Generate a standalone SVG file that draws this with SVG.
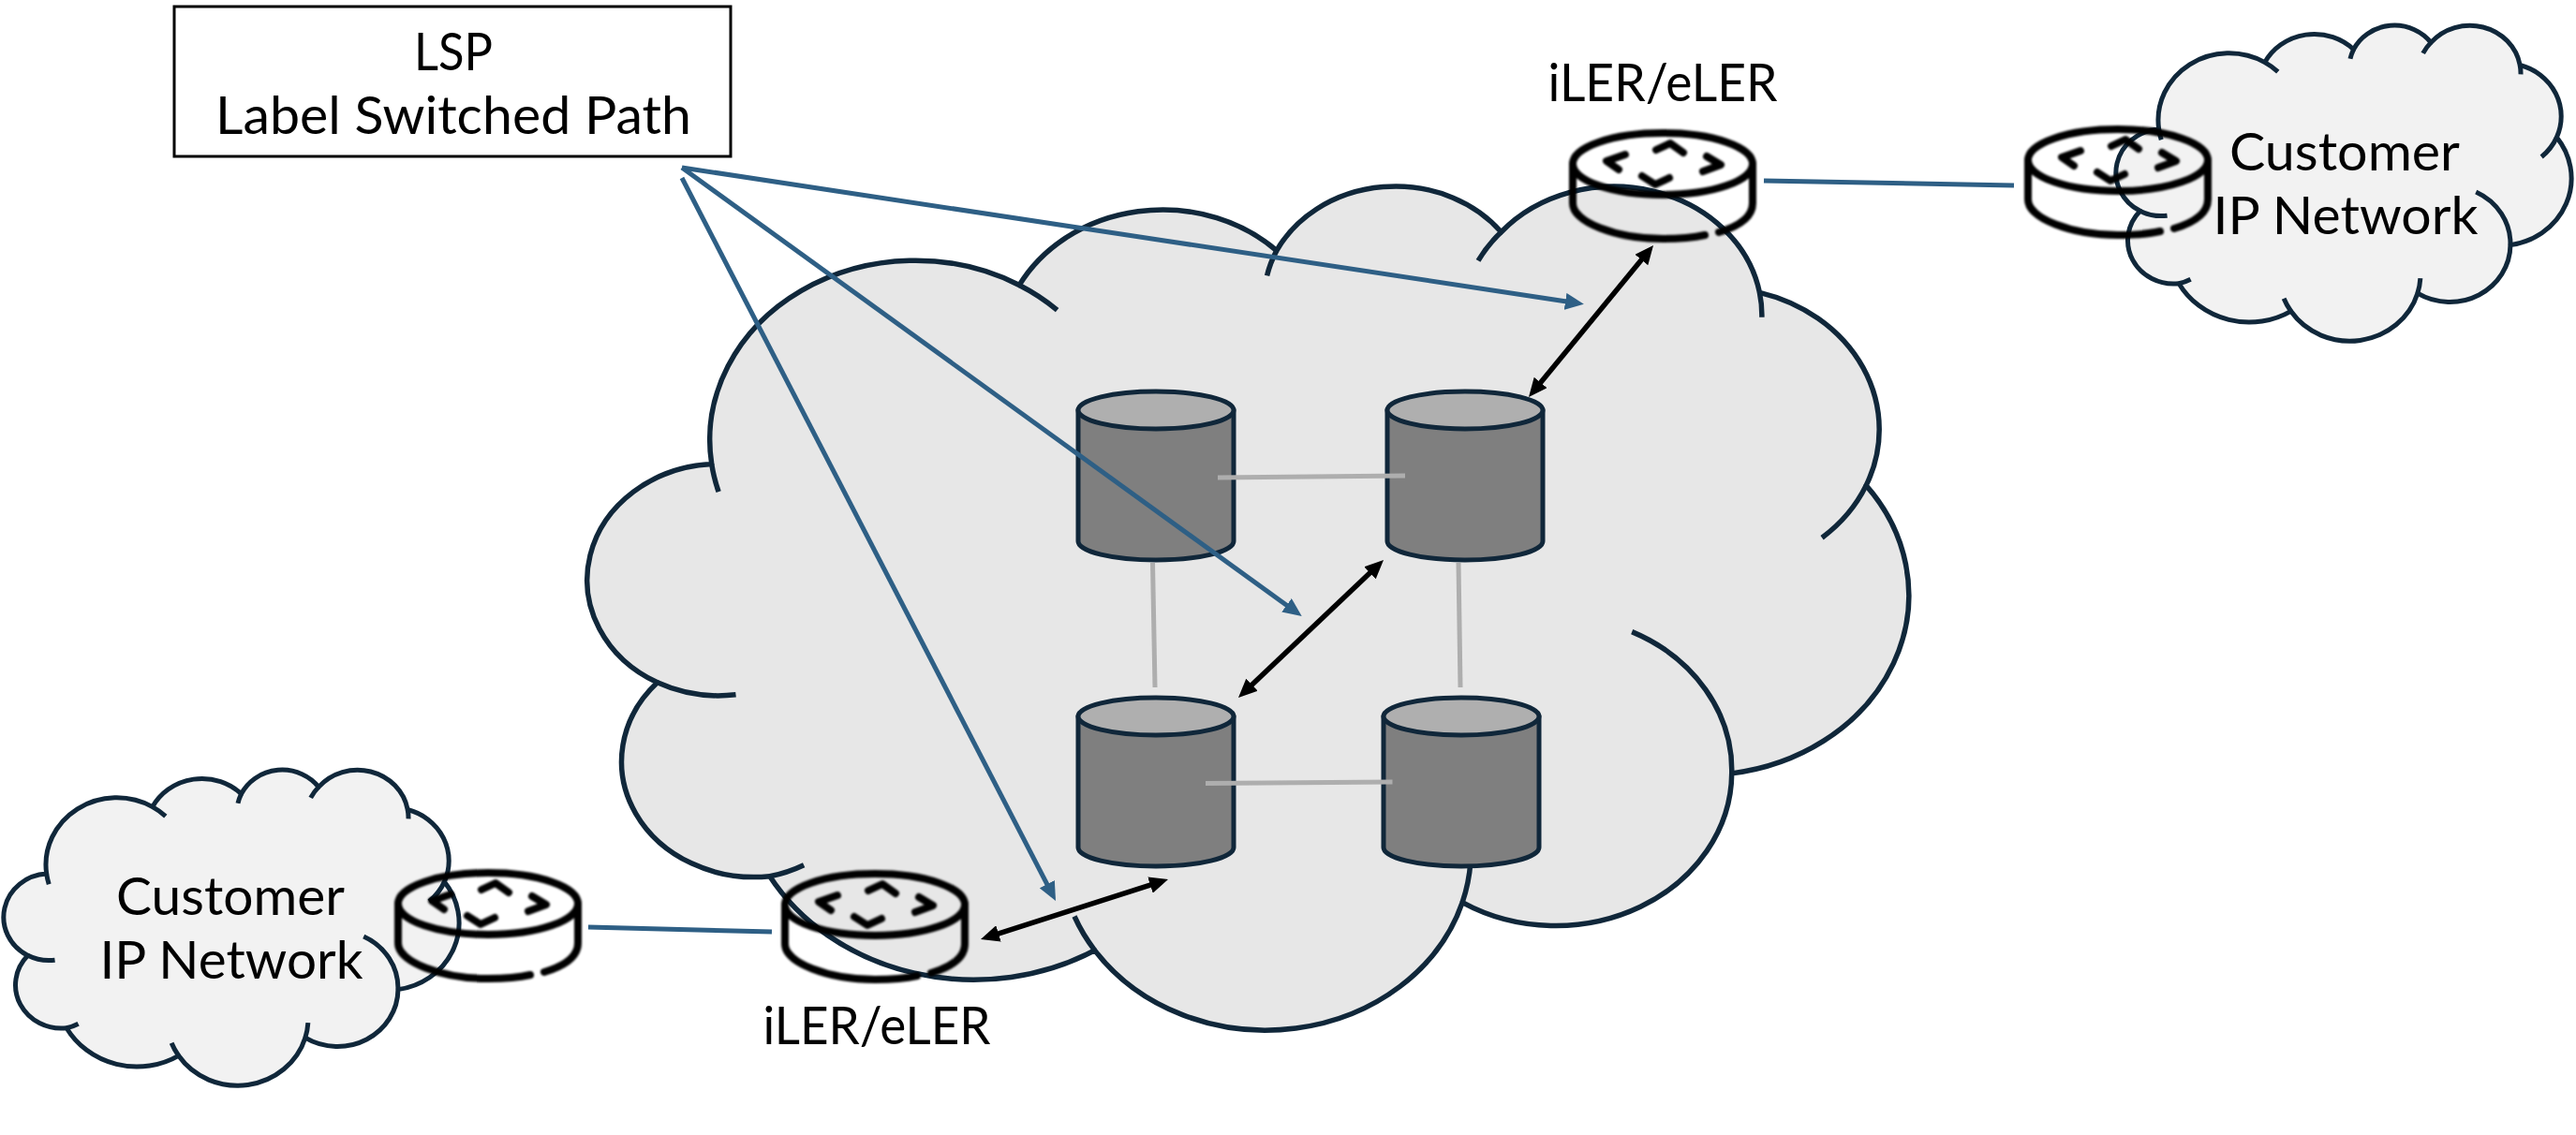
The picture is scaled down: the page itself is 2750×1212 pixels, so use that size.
<svg xmlns="http://www.w3.org/2000/svg" xmlns:xlink="http://www.w3.org/1999/xlink" width="2750" height="1212" viewBox="0 0 2750 1212">
<style>
text{font-family:Lato,"Open Sans","Liberation Sans",sans-serif;font-size:56px;fill:#000}
.ol,.tl{stroke:#10273a;vector-effect:non-scaling-stroke;stroke-linejoin:round}
.tl{fill:none}
.can{fill:#7f7f7f;stroke:#10273a;stroke-width:5;stroke-linejoin:round}
.lid{fill:#afafaf;stroke:#10273a;stroke-width:5}
.rt{fill:none;stroke:#000;stroke-width:8;stroke-linecap:round;stroke-linejoin:round}
.blue{stroke:#2e5f85;stroke-width:5;fill:none}
.dk{stroke:#000;stroke-width:5.5;fill:none}
.gr{stroke:#aeaeae;stroke-width:5;fill:none}
</style>
<defs>
<marker id="hb" viewBox="0 0 20 18" refX="8" refY="9" markerWidth="20" markerHeight="18" markerUnits="userSpaceOnUse" orient="auto-start-reverse"><path d="M0,0L20,9L0,18Z" fill="#2e5f85"/></marker>
<marker id="hk" viewBox="0 0 20 18" refX="8" refY="9" markerWidth="20" markerHeight="18" markerUnits="userSpaceOnUse" orient="auto-start-reverse"><path d="M0,0L20,9L0,18Z" fill="#000"/></marker>
<filter id="soft" x="-5%" y="-5%" width="110%" height="110%"><feGaussianBlur stdDeviation="0.8"/></filter>
<g id="cloud">
<path class="ol" d="M3900,14370A6753,9190 0 0 1 14005,5201A5333,7267 0 0 1 22457,3434A4365,5945 0 0 1 29835,2484A4857,6595 0 0 1 38320,5578A5333,7273 0 0 1 41820,15463A6775,9220 0 0 1 37407,30209A5785,7867 0 0 1 28558,36819A6752,9215 0 0 1 16484,39271A7720,10543 0 0 1 5808,35478A4360,5918 0 0 1 2117,25556A4345,5945 0 0 1 3900,14370Z"/>
<path class="tl" d="M4693,26177A4345,5945 0 0 1 2117,25556M6928,34899A4360,5918 0 0 1 5808,35478M16484,39271A6752,9215 0 0 1 15815,37530M28827,34751A6752,9215 0 0 1 28558,36819M34129,22954A5785,7867 0 0 1 37407,30209M41820,15463A5333,7273 0 0 1 40372,18138M38320,5578A4857,6595 0 0 1 38396,6843M29078,3952A4857,6595 0 0 1 29835,2484M22141,4720A4365,5945 0 0 1 22457,3434M14005,5201A6753,9190 0 0 1 15249,6477M4127,15789A6753,9190 0 0 1 3900,14370"/>
</g>
<g id="router" class="rt" filter="url(#soft)">
<ellipse cx="100" cy="38" rx="96" ry="33"/>
<path d="M4,38V80C4,100 50,118 100,118C115,118 132,117 145,114M160,111C180,105 196,95 196,80V38"/>
<path d="M60,28L40,35L53,44M93,23L108,16L122,26M147,30L162,39L143,46M78,51L92,60L107,53"/>
</g>
<g id="cyl">
<path class="can" d="M0,20V160C0,171 37,180 83,180C129,180 166,171 166,160V20Z"/>
<ellipse class="lid" cx="83" cy="20" rx="83" ry="20"/>
</g>
</defs>
<g id="node-core-cloud" fill="#e7e7e7" stroke-width="5.5">
<use xlink:href="#cloud" href="#cloud" transform="translate(633,196) scale(0.0325,0.02085)"/>
</g>
<g id="node-cloud-right" fill="#f2f2f2" stroke-width="5">
<use xlink:href="#cloud" href="#cloud" transform="translate(2261,26) scale(0.0112,0.0078)"/>
<text x="2503" y="182" text-anchor="middle" textLength="246" lengthAdjust="spacingAndGlyphs">Customer</text>
<text x="2504" y="250" text-anchor="middle" textLength="283" lengthAdjust="spacingAndGlyphs">IP Network</text>
</g>
<g id="node-cloud-left" fill="#f2f2f2" stroke-width="5">
<use xlink:href="#cloud" href="#cloud" transform="translate(6,821) scale(0.0112,0.0078)"/>
<text x="246" y="977" text-anchor="middle" textLength="244" lengthAdjust="spacingAndGlyphs">Customer</text>
<text x="247" y="1045" text-anchor="middle" textLength="281" lengthAdjust="spacingAndGlyphs">IP Network</text>
</g>
<g id="node-lsr-1"><use xlink:href="#cyl" href="#cyl" transform="translate(1151,418)"/></g>
<g id="node-lsr-2"><use xlink:href="#cyl" href="#cyl" transform="translate(1481,418)"/></g>
<g id="node-lsr-3"><use xlink:href="#cyl" href="#cyl" transform="translate(1151,745)"/></g>
<g id="node-lsr-4"><use xlink:href="#cyl" href="#cyl" transform="translate(1477,745)"/></g>
<g id="node-ler-top">
<use xlink:href="#router" href="#router" transform="translate(1675,137)"/>
<text x="1775" y="108" text-anchor="middle" textLength="245" lengthAdjust="spacingAndGlyphs">iLER/eLER</text>
</g>
<g id="node-ler-right"><use xlink:href="#router" href="#router" transform="translate(2161,133)"/></g>
<g id="node-ler-left"><use xlink:href="#router" href="#router" transform="translate(421,927)"/></g>
<g id="node-ler-bottom">
<use xlink:href="#router" href="#router" transform="translate(834,928)"/>
<text x="936" y="1115" text-anchor="middle" textLength="243" lengthAdjust="spacingAndGlyphs">iLER/eLER</text>
</g>
<g id="node-lsp">
<rect x="186" y="7" width="594" height="160" fill="#fff" stroke="#000" stroke-width="3"/>
<text x="484" y="75" text-anchor="middle" textLength="84" lengthAdjust="spacingAndGlyphs">LSP</text>
<text x="484" y="143" text-anchor="middle" textLength="508" lengthAdjust="spacingAndGlyphs">Label Switched Path</text>
</g>
<g id="connectors">
<path class="gr" d="M1300,510L1500,508"/>
<path class="gr" d="M1230.5,601L1233,734"/>
<path class="gr" d="M1557,601L1559,734"/>
<path class="gr" d="M1287,836.5L1486.5,835"/>
<path class="blue" d="M728,179L1679,323" marker-end="url(#hb)"/>
<path class="blue" d="M728,179L1380,651" marker-end="url(#hb)"/>
<path class="blue" d="M728,190L1121.5,951.3" marker-end="url(#hb)"/>
<path class="blue" d="M1883,193L2150,198"/>
<path class="blue" d="M628,990L824,995"/>
<path class="dk" d="M1757.4,271.3L1639.6,414.7" marker-start="url(#hk)" marker-end="url(#hk)"/>
<path class="dk" d="M1468.3,606.3L1330.7,736.7" marker-start="url(#hk)" marker-end="url(#hk)"/>
<path class="dk" d="M1058.4,999.3L1235.6,942.7" marker-start="url(#hk)" marker-end="url(#hk)"/>
</g>
</svg>
